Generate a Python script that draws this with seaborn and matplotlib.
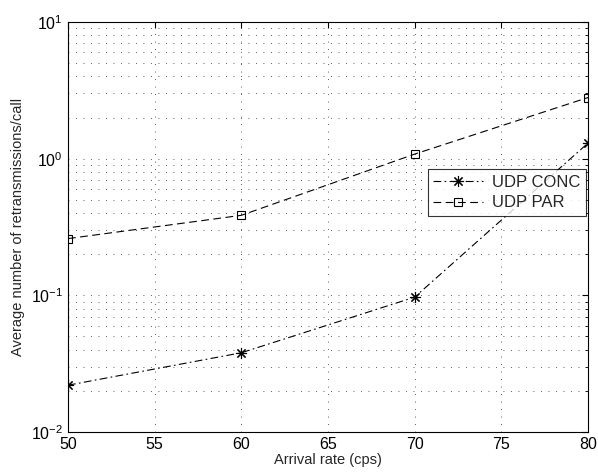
import numpy as np
import pandas as pd
import matplotlib.pyplot as plt
import seaborn as sns

# Data
arrival_rate = [50, 60, 70, 80]
udp_conc = [0.022, 0.038, 0.097, 1.3]
udp_par = [0.26, 0.385, 1.08, 2.8]
x_ticks = [50, 55, 60, 65, 70, 75, 80]

df = pd.DataFrame({
    'rate': arrival_rate * 2,
    'value': udp_conc + udp_par,
    'series': ['UDP CONC'] * 4 + ['UDP PAR'] * 4,
})

sns.set_style('white')
plt.rcParams['font.family'] = ['Liberation Sans', 'DejaVu Sans']
plt.rcParams['mathtext.fontset'] = 'custom'
plt.rcParams['mathtext.rm'] = 'Liberation Sans'

fig = plt.figure(figsize=(5.98, 4.74), dpi=100)
ax = fig.add_axes([0.1137, 0.0886, 0.8696, 0.865])

conc = df[df['series'] == 'UDP CONC']
par = df[df['series'] == 'UDP PAR']
sns.lineplot(data=conc, x='rate', y='value', ax=ax, color='black', lw=0.8,
             marker=(8, 2, 0), markersize=8, markeredgewidth=0.8,
             markeredgecolor='black', label='UDP CONC')
ax.lines[-1].set_dashes([7, 3, 1.5, 3])
sns.lineplot(data=par, x='rate', y='value', ax=ax, color='black', lw=0.8,
             marker='s', markersize=6, markerfacecolor='none',
             markeredgecolor='black', markeredgewidth=0.8, label='UDP PAR')
ax.lines[-1].set_dashes([7, 4])

ax.set_yscale('log')
ax.set_xlim(50, 80)
ax.set_ylim(1e-2, 1e1)
ax.set_xticks(x_ticks)
ax.tick_params(direction='in', which='both', labelsize=11.5, length=4,
               top=True, right=True, colors='black')
ax.tick_params(which='minor', length=2.5)
dots = (0, (1, 8))
ax.grid(True, which='major', axis='both', linestyle=dots, color='0.15', lw=0.6)
ax.grid(True, which='minor', axis='y', linestyle=dots, color='0.15', lw=0.6)
for s in ax.spines.values():
    s.set_color('black')
    s.set_linewidth(0.8)

ax.set_xlabel('Arrival rate (cps)', fontsize=10.5, labelpad=1)
ax.set_ylabel('Average number of retransmissions/call', fontsize=10.5, labelpad=4)

leg = ax.legend(loc='center right', bbox_to_anchor=(0.996, 0.584), frameon=True,
                fancybox=False, edgecolor='black', fontsize=12, borderaxespad=0,
                handlelength=3.0, borderpad=0.35, labelspacing=0.35,
                handletextpad=0.5)
leg.get_frame().set_linewidth(0.8)

fig.savefig('out.png', dpi=100)
